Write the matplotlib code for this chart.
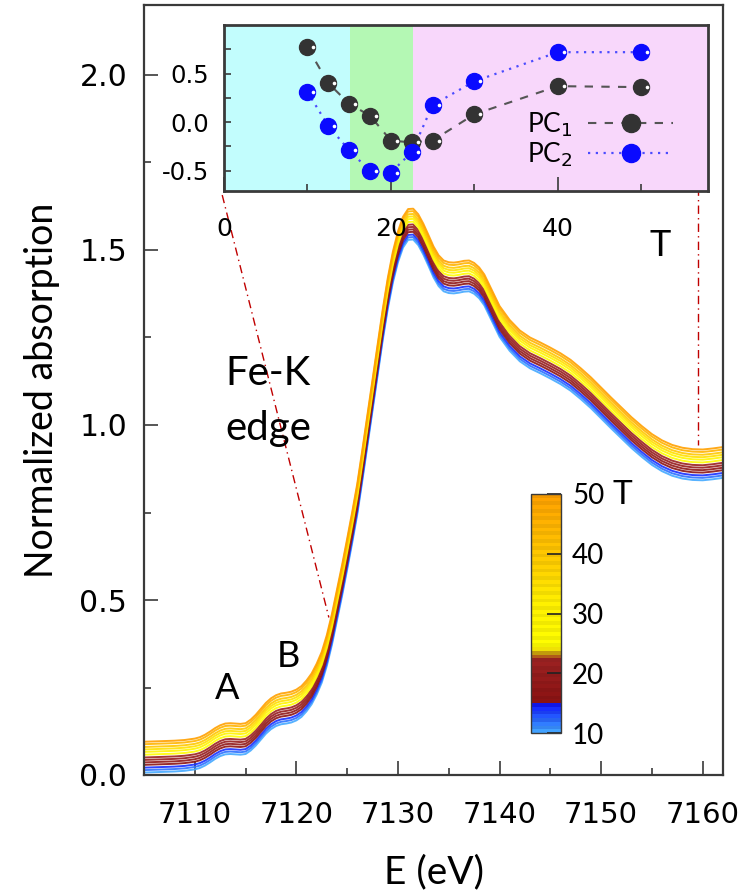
import numpy as np
import matplotlib
matplotlib.use("Agg")
import matplotlib.pyplot as plt
from matplotlib.colors import LinearSegmentedColormap, ListedColormap, Normalize
from matplotlib.cm import ScalarMappable
from matplotlib.lines import Line2D
import matplotlib.transforms as mtransforms

# ---- XANES spectra (Fe-K edge), highest-T curve and per-T vertical offsets ----
energy = [7105, 7106, 7107, 7108, 7109, 7110, 7110.5, 7111, 7111.5, 7112, 7112.5,
          7113, 7113.5, 7114, 7114.5, 7115, 7115.5, 7116, 7116.5, 7117, 7117.5,
          7118, 7118.5, 7119, 7119.5, 7120, 7120.5, 7121, 7121.5, 7122, 7122.5,
          7123, 7123.5, 7124, 7124.5, 7125, 7125.5, 7126, 7126.5, 7127, 7127.5,
          7128, 7128.5, 7129, 7129.5, 7130, 7130.5, 7131, 7131.5, 7132, 7132.5,
          7133, 7133.5, 7134, 7134.5, 7135, 7135.5, 7136, 7136.5, 7137, 7137.5,
          7138, 7138.5, 7139, 7139.5, 7140, 7141, 7142, 7143, 7144, 7145, 7146,
          7147, 7148, 7149, 7150, 7151, 7152, 7153, 7154, 7155, 7156, 7157, 7158,
          7159, 7160, 7161, 7162]
mu_T50 = [0.095, 0.096, 0.097, 0.098, 0.100, 0.104, 0.108, 0.115, 0.124, 0.134, 0.142,
          0.147, 0.148, 0.147, 0.146, 0.148, 0.158, 0.172, 0.189, 0.206, 0.219,
          0.228, 0.233, 0.235, 0.238, 0.244, 0.254, 0.270, 0.290, 0.318, 0.352,
          0.400, 0.460, 0.530, 0.600, 0.675, 0.752, 0.833, 0.930, 1.030, 1.130,
          1.230, 1.330, 1.420, 1.495, 1.553, 1.595, 1.617, 1.618, 1.602, 1.575,
          1.543, 1.510, 1.485, 1.470, 1.465, 1.464, 1.466, 1.469, 1.470, 1.463,
          1.450, 1.430, 1.400, 1.370, 1.340, 1.300, 1.270, 1.250, 1.236, 1.221, 1.205,
          1.186, 1.162, 1.136, 1.107, 1.078, 1.050, 1.022, 0.997, 0.974, 0.956, 0.943,
          0.935, 0.931, 0.930, 0.933, 0.937]
T_spectra = [10, 12, 14, 16, 18, 20, 22, 26, 30, 35, 40, 45, 50]
mu_shift = [-0.088, -0.081, -0.074, -0.066, -0.059, -0.052, -0.045,
            -0.037, -0.029, -0.022, -0.015, -0.007, 0.0]

# ---- principal component scores vs T ----
T_pc = [10, 12.5, 15, 17.5, 20, 22.5, 25, 30, 40, 50]
pc1 = [0.77, 0.40, 0.19, 0.065, -0.19, -0.21, -0.19, 0.08, 0.37, 0.36]
pc2 = [0.31, -0.04, -0.29, -0.505, -0.52, -0.31, 0.175, 0.42, 0.72, 0.72]

# ---- temperature colour scale ----
cmap_nodes = [(0.00, '#45aaff'), (0.05, '#2b70ff'), (0.11, '#1422ff'),
              (0.122, '#1010f0'), (0.125, '#8a1212'), (0.31, '#9c2222'),
              (0.33, '#c08a10'), (0.36, '#ffff00'), (0.55, '#fff000'),
              (0.70, '#ffd000'), (0.85, '#ffb800'), (1.00, '#ffa000')]
base_cmap = LinearSegmentedColormap.from_list('temp', cmap_nodes, N=512)
band_cols = []
for i in range(64):
    c = np.array(base_cmap((i + 0.5) / 64))
    if i % 2:
        c[:3] *= 0.94
    band_cols.append(c)
band_cmap = ListedColormap(band_cols)
norm = Normalize(10, 50)

W, H = 751, 893
fig = plt.figure(figsize=(W / 100, H / 100), dpi=100)

def fbox(x0, y0, x1, y1):
    return [x0 / W, 1 - y1 / H, (x1 - x0) / W, (y1 - y0) / H]

spine_col = '#3a3a3a'
text_font = ['Lato', 'DejaVu Sans']

# ---- main panel ----
ax = fig.add_axes(fbox(144, 5, 723, 775))
E = np.array(energy)
for T, dy in zip(T_spectra, mu_shift):
    ax.plot(E, np.array(mu_T50) + dy, color=base_cmap(norm(T)), lw=1.4,
            alpha=0.9, solid_joinstyle='round', solid_capstyle='round', zorder=2)

ax.set_xlim(7105, 7162)
ax.set_ylim(0, 2.2)
ax.set_xticks([7110, 7120, 7130, 7140, 7150, 7160])
ax.set_xticks([7115, 7125, 7135, 7145, 7155], minor=True)
ax.set_yticks([0.0, 0.5, 1.0, 1.5, 2.0])
ax.set_yticks([0.25, 0.75, 1.25, 1.75], minor=True)
ax.yaxis.set_major_formatter(matplotlib.ticker.FormatStrFormatter('%.1f'))
ax.tick_params(which='major', direction='in', length=10, width=1.2,
               color=spine_col, labelsize=21.5, pad=12)
ax.tick_params(which='minor', direction='in', length=5, width=1.2, color=spine_col)
ax.tick_params(axis='x', labelsize=21, pad=19)
for s in ax.spines.values():
    s.set_color(spine_col)
    s.set_linewidth(1.6)
ax.set_xlabel('E (eV)', fontsize=28, family=text_font, labelpad=18)
ax.set_ylabel('Normalized absorption', fontsize=27, family=text_font, labelpad=14)

# guide lines linking the inset temperature axis to the spectra
ax.plot([7112.7, 7123.2], [1.657, 0.45], color='#c00000', lw=1.0,
        ls=(0, (6, 3, 1, 3)), zorder=1)
ax.plot([7159.5, 7159.5], [1.68, 0.943], color='#c00000', lw=1.0,
        ls=(0, (6, 3, 1, 3)), zorder=1)

ax.text(7113.0, 1.114, 'Fe-K', fontsize=29, family=text_font, va='baseline', ha='left')
ax.text(7113.0, 0.957, 'edge', fontsize=29, family=text_font, va='baseline', ha='left')
ax.text(7113.2, 0.246, 'A', fontsize=26, family=text_font, ha='center', va='center')
ax.text(7119.2, 0.339, 'B', fontsize=26, family=text_font, ha='center', va='center')

# ---- inset: PC scores vs T ----
ins = fig.add_axes(fbox(224, 25, 708, 191))
ins.set_xlim(0, 58)
ins.set_ylim(-0.71, 1.0)
ins.axvspan(0, 15.1, color='#c2fdfd', lw=0, zorder=0)
ins.axvspan(15.1, 22.6, color='#b4f8b4', lw=0, zorder=0)
ins.axvspan(22.6, 58, color='#f8d7fb', lw=0, zorder=0)

ms = 11.5
ins.plot(T_pc, pc1, color='#555555', lw=1.5, ls=(0, (4, 4)), zorder=2)
ins.plot(T_pc, pc2, color='#4b4bff', lw=1.6, ls=(0, (1, 2.5)), zorder=2)
ins.plot(T_pc, pc1, ls='none', marker='o', ms=ms, mfc='#333333', mec='#333333', zorder=3)
ins.plot(T_pc, pc2, ls='none', marker='o', ms=ms, mfc='#0a0aff', mec='#0a0aff', zorder=3)
notch = mtransforms.offset_copy(ins.transData, fig=fig, x=6, y=0, units='dots')
ins.plot(T_pc, pc1, ls='none', marker='o', ms=2.6, mfc='white', mec='none',
         transform=notch, zorder=4)
ins.plot(T_pc, pc2, ls='none', marker='o', ms=2.6, mfc='white', mec='none',
         transform=notch, zorder=4)

ins.set_xticks([0, 20, 40])
ins.set_xticks([10, 30, 50], minor=True)
ins.set_yticks([-0.5, -0.25, 0.0, 0.25, 0.5, 0.75])
ins.set_yticklabels(['-0.5', '', '0.0', '', '0.5', ''])
ins.tick_params(axis='x', which='major', direction='in', length=10, width=1.2,
                color=spine_col, labelsize=18, pad=19)
ins.tick_params(axis='x', which='minor', direction='in', length=5, width=1.2,
                color=spine_col)
ins.tick_params(axis='y', direction='in', length=5, width=1.2, color=spine_col,
                labelsize=17.5, pad=11)
for s in ins.spines.values():
    s.set_color(spine_col)
    s.set_linewidth(2.0)

h1 = Line2D([], [], color='#555555', lw=1.5, ls=(0, (4, 4)), marker='o', ms=13,
            mfc='#333333', mec='#333333')
h2 = Line2D([], [], color='#4b4bff', lw=1.6, ls=(0, (1, 2.5)), marker='o', ms=13,
            mfc='#0a0aff', mec='#0a0aff')
ins.legend([h1, h2], ['PC$_1$', 'PC$_2$'], loc='lower right', markerfirst=False,
           frameon=False, handlelength=3.2, handletextpad=0.6,
           labelspacing=0.05, borderaxespad=0.2, bbox_to_anchor=(0.96, 0.04),
           prop={'family': text_font, 'size': 19})
fig.text(660 / W, 1 - 246 / H, 'T', fontsize=26, family=text_font,
         ha='center', va='center')

# ---- colour bar ----
cax = fig.add_axes(fbox(531, 494, 561, 733))
cb = fig.colorbar(ScalarMappable(norm=norm, cmap=band_cmap), cax=cax)
cb.set_ticks([10, 20, 30, 40, 50])
cb.outline.set_edgecolor(spine_col)
cb.outline.set_linewidth(1.0)
cax.tick_params(direction='in', length=10, width=1.2, color='#222222',
                labelsize=20, pad=8)
for lbl in cax.get_yticklabels():
    lbl.set_family(text_font)
fig.text(622 / W, 1 - 495 / H, 'T', fontsize=24, family=text_font,
         ha='center', va='center')

fig.savefig('out.png', dpi=100)
